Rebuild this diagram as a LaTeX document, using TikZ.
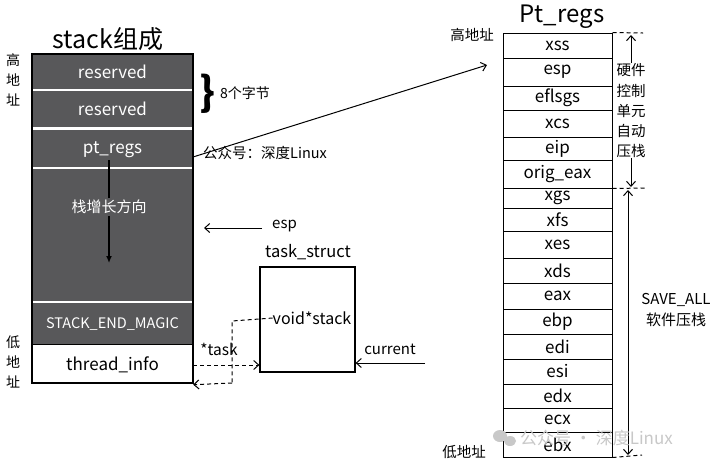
\documentclass[tikz,border=0pt]{standalone}
\usepackage{fontspec}
\setmainfont{Noto Sans CJK SC}
\usetikzlibrary{arrows.meta,calc}
\definecolor{stackdark}{RGB}{88,88,90}
\definecolor{wmgray}{RGB}{200,200,200}
\tikzset{
  fs/.style={font=\fontsize{#1}{#1}\selectfont},
  darksec/.style={draw=none,fill=stackdark,text=white,minimum width=161pt,inner sep=0pt,fs=17},
  regrow/.style={draw=black,line width=1pt,fill=white,minimum width=109pt,inner sep=0pt,fs=17},
  barb/.style={-{Straight Barb[length=5pt,width=9pt]},line width=1pt},
  dbarb/.style={{Straight Barb[length=5pt,width=9pt]}-{Straight Barb[length=5pt,width=9pt]},line width=1pt},
  dashln/.style={dash pattern=on 4pt off 3pt,line width=1pt},
  lbl/.style={inner sep=0pt,fs=#1},
}
\begin{document}
\begin{tikzpicture}[x=1pt,y=-1pt]
\useasboundingbox (0,0) rectangle (720,467);
% ---------- left stack ----------
\node[lbl=25] (title) at (108,39) {stack组成};
\node[darksec,minimum height=36pt] (res1) at (112.5,72) {reserved};
\node[darksec,minimum height=38pt] (res2) at (112.5,109) {reserved};
\node[darksec,minimum height=40pt] (ptr) at (112.5,150) {pt\_regs};
\node[darksec,minimum height=134pt] (grow) at (112.5,235) {};
\node[darksec,minimum height=42pt,fs=14.5] (magic) at (112.5,324) {STACK\_END\_MAGIC};
\node[draw=none,fill=white,minimum width=161pt,minimum height=39pt,inner sep=0pt,fs=17] (tinfo) at (112.5,365) {thread\_info};
\draw[white,line width=1.5pt] (32,90) -- (193,90) (32,128) -- (193,128) (32,168) -- (193,168) (32,302) -- (193,302);
\draw[black,line width=1.2pt] (32,54) rectangle (193,383);
\draw[black,line width=1pt] (32,344) -- (193,344);
\coordinate (growtop) at (109,160);
\coordinate (growend) at (109,263);
\draw[-{Latex[length=7pt,width=6pt]},line width=1.3pt] (growtop) -- (growend);
\node[lbl=15,fill=stackdark,text=white,inner sep=2pt] (growtxt) at (109,207) {栈增长方向};
% left labels
\node[lbl=14] (hi1) at (13,60) {高};
\node[lbl=14] (hi2) at (13,80) {地};
\node[lbl=14] (hi3) at (13,100) {址};
\node[lbl=14] (lo1) at (13,342) {低};
\node[lbl=14] (lo2) at (13,362) {地};
\node[lbl=14] (lo3) at (13,382) {址};
% brace
\node[lbl=30,font=\fontsize{40}{40}\selectfont\bfseries] (brace) at (207,94) {\}};
\node[lbl=14,anchor=west] (bytes) at (220,93) {8个字节};
\node[lbl=14.5,anchor=west] (wx) at (203,153) {公众号：深度Linux};
% arrow to Pt_regs
\coordinate (ptrout) at (193,157);
\coordinate (ptin) at (487,65);
\draw[barb] (ptrout) -- (ptin);
% esp
\node[lbl=15,anchor=west] (esp) at (272,226) {esp};
\coordinate (espend) at (204,228);
\draw[barb] (262,228) -- (espend);
% task_struct
\node[lbl=16.5] (tstitle) at (308,252) {task\_struct};
\node[draw,line width=1.2pt,minimum width=95pt,minimum height=105pt,inner sep=0pt] (ts) at (307.5,319.5) {};
\node[lbl=16] (vstack) at (312,318) {void*stack};
\node[lbl=15.5] (tasklbl) at (219,349) {*task};
\draw[dashln] (vstack.west) -- (232,321) -- (232,383);
\draw[dashln,-{Straight Barb[length=5pt,width=9pt]}] (232,383) -- (tinfo.south east);
\draw[dashln,-{Straight Barb[length=5pt,width=9pt]}] (tinfo.east |- 0,365) -- (ts.west |- 0,365);
\node[lbl=15] (cur) at (390,349) {current};
\coordinate (curstart) at (425,363);
\draw[barb] (curstart) -- (ts.east |- curstart);
% ---------- Pt_regs ----------
\node[lbl=24] (pttitle) at (562,17) {Pt\_regs};
\node[lbl=14.5] (hiaddr) at (472,35) {高地址};
\node[lbl=14.5] (loaddr) at (464,452) {低地址};
\foreach \n/\t/\b [count=\i] in {xss/33/58, esp/58/86, eflsgs/86/110, xcs/110/137, eip/137/160, orig\_eax/160/188, xgs/188/208, xfs/208/231, xes/231/258, xds/258/283, eax/283/309, ebp/309/334, edi/334/359, esi/359/384, edx/384/408, ecx/408/432, ebx/432/457}{
  \node[regrow,minimum height={(\b-\t)*1pt}] (r\i) at (557.5,{(\t+\b)/2}) {\n};
}
% hardware annotation
\draw[dashln] (r1.north east) -- (643,33);
\draw[dashln] (r6.south east) -- (645,188);
\draw[dashln] (r17.south east) -- (642,455);
\node[lbl=14.5] (hw1) at (631,70) {硬件};
\node[lbl=14.5] (hw2) at (631,91) {控制};
\node[lbl=14.5] (hw3) at (631,111) {单元};
\node[lbl=14.5] (hw4) at (631,131) {自动};
\node[lbl=14.5] (hw5) at (631,151) {压栈};
\draw[barb] (hw1.north) -- (631,35);
\draw[barb] (hw5.south) -- (631,187);
\draw[dbarb] (628,190) -- (628,455);
\node[lbl=15] (sa1) at (676,300) {SAVE\_ALL};
\node[lbl=15] (sa2) at (676,320) {软件压栈};
% watermark
\fill[wmgray] (500,436) ellipse (7pt and 6pt);
\fill[wmgray] (510,441) ellipse (6pt and 5pt);
\node[lbl=17,text=wmgray,anchor=west] (wm) at (520,438) {公众号 · 深度Linux};
\end{tikzpicture}
\end{document}
